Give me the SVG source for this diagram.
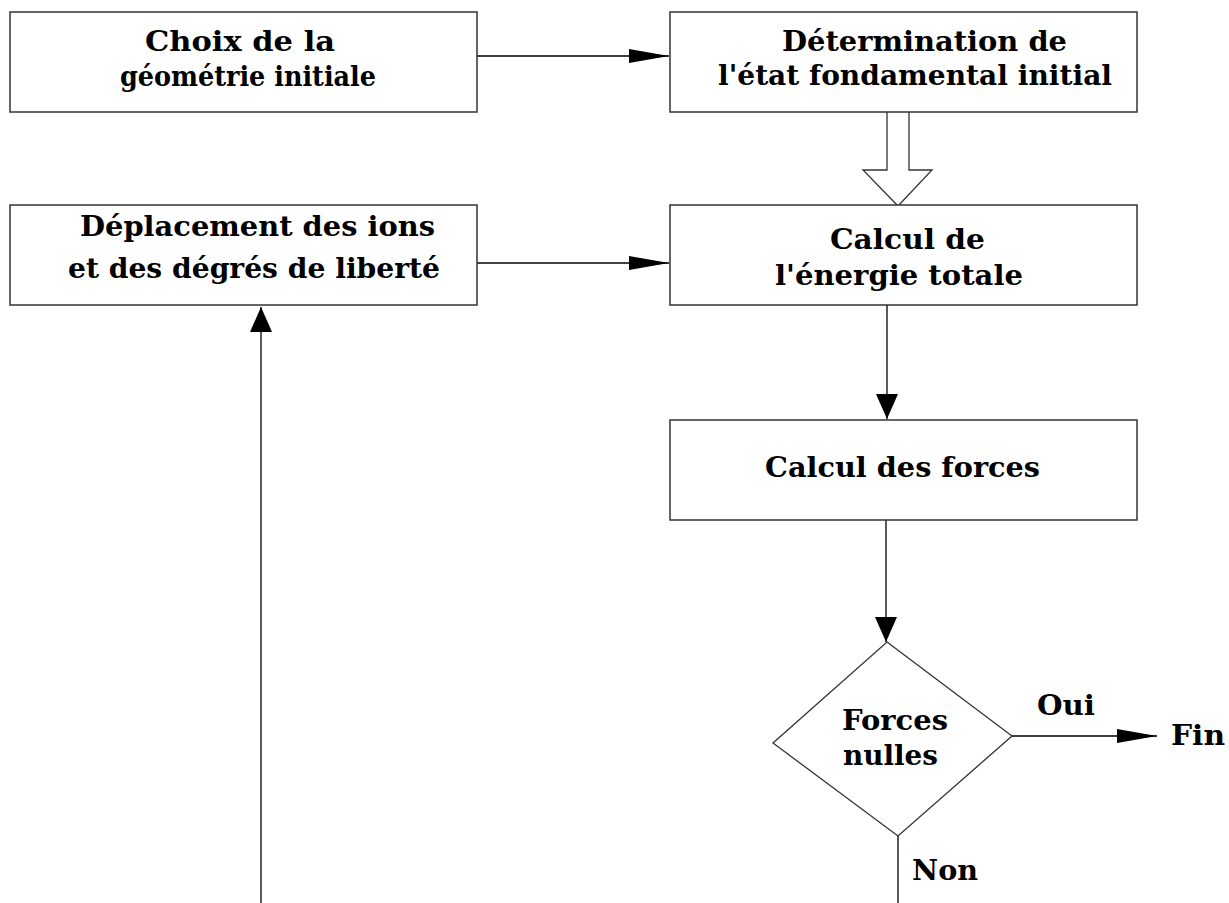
<svg xmlns="http://www.w3.org/2000/svg" width="1229" height="903" viewBox="0 0 1229 903">
<style>
.box{fill:#fff;stroke:#333;stroke-width:1.5}
.ln{fill:none;stroke:#000;stroke-width:1.3}
.t{font-family:"DejaVu Serif","Liberation Serif",serif;font-weight:bold;font-size:27px;fill:#000;text-anchor:middle}
</style>
<defs>
<marker id="ah" markerUnits="userSpaceOnUse" viewBox="0 0 40 14" refX="40" refY="7" markerWidth="40" markerHeight="14" orient="auto">
<path d="M0,0 L40,7 L0,14 Z" fill="#000"/>
</marker>
<marker id="av" markerUnits="userSpaceOnUse" viewBox="0 0 25 22" refX="25" refY="11" markerWidth="25" markerHeight="22" orient="auto">
<path d="M0,0 L25,11 L0,22 Z" fill="#000"/>
</marker>
</defs>
<rect width="1229" height="903" fill="#fff"/>
<g id="connectors">
<line class="ln" x1="477" y1="56" x2="669" y2="56" marker-end="url(#ah)"/>
<line class="ln" x1="477" y1="263" x2="669" y2="263" marker-end="url(#ah)"/>
<path d="M887,112 L887,170 L863,170 L898,206 L932,170 L909,170 L909,112" fill="#fff" stroke="#333" stroke-width="1.3"/>
<line class="ln" x1="887" y1="305" x2="887" y2="419" marker-end="url(#av)"/>
<line class="ln" x1="886" y1="520" x2="886" y2="642" marker-end="url(#av)"/>
<line class="ln" x1="1012" y1="736" x2="1157" y2="736" marker-end="url(#ah)"/>
<line class="ln" x1="898" y1="836" x2="898" y2="903"/>
<line class="ln" x1="261" y1="903" x2="261" y2="307" marker-end="url(#av)"/>
</g>
<g id="n1"><rect class="box" x="10" y="12" width="467" height="100"/>
<text class="t" x="240" y="51" textLength="190" lengthAdjust="spacingAndGlyphs">Choix de la</text><text class="t" x="248" y="86" textLength="256" lengthAdjust="spacingAndGlyphs">géométrie initiale</text></g>
<g id="n2"><rect class="box" x="670" y="12" width="467" height="100"/>
<text class="t" x="924.5" y="51" textLength="285" lengthAdjust="spacingAndGlyphs">Détermination de</text><text class="t" x="915" y="85" textLength="394" lengthAdjust="spacingAndGlyphs">l'état fondamental initial</text></g>
<g id="n3"><rect class="box" x="10" y="205" width="467" height="100"/>
<text class="t" x="257.5" y="236" textLength="355" lengthAdjust="spacingAndGlyphs">Déplacement des ions</text><text class="t" x="254" y="278" textLength="372" lengthAdjust="spacingAndGlyphs">et des dégrés de liberté</text></g>
<g id="n4"><rect class="box" x="670" y="205" width="467" height="100"/>
<text class="t" x="907.5" y="249" textLength="155" lengthAdjust="spacingAndGlyphs">Calcul de</text><text class="t" x="899" y="285" textLength="248" lengthAdjust="spacingAndGlyphs">l'énergie totale</text></g>
<g id="n5"><rect class="box" x="670" y="420" width="467" height="100"/>
<text class="t" x="902.5" y="477" textLength="275" lengthAdjust="spacingAndGlyphs">Calcul des forces</text></g>
<g id="n6"><polygon points="887,642 1012,736 898,836 773,743" fill="#fff" stroke="#333" stroke-width="1.3"/>
<text class="t" x="895" y="730" textLength="106" lengthAdjust="spacingAndGlyphs">Forces</text><text class="t" x="890.5" y="765" textLength="95" lengthAdjust="spacingAndGlyphs">nulles</text></g>
<g id="labels">
<text class="t" x="1066" y="715" textLength="58" lengthAdjust="spacingAndGlyphs">Oui</text>
<text class="t" x="1198" y="745" textLength="54" lengthAdjust="spacingAndGlyphs">Fin</text>
<text class="t" x="945" y="880" textLength="66" lengthAdjust="spacingAndGlyphs">Non</text>
</g>
</svg>
